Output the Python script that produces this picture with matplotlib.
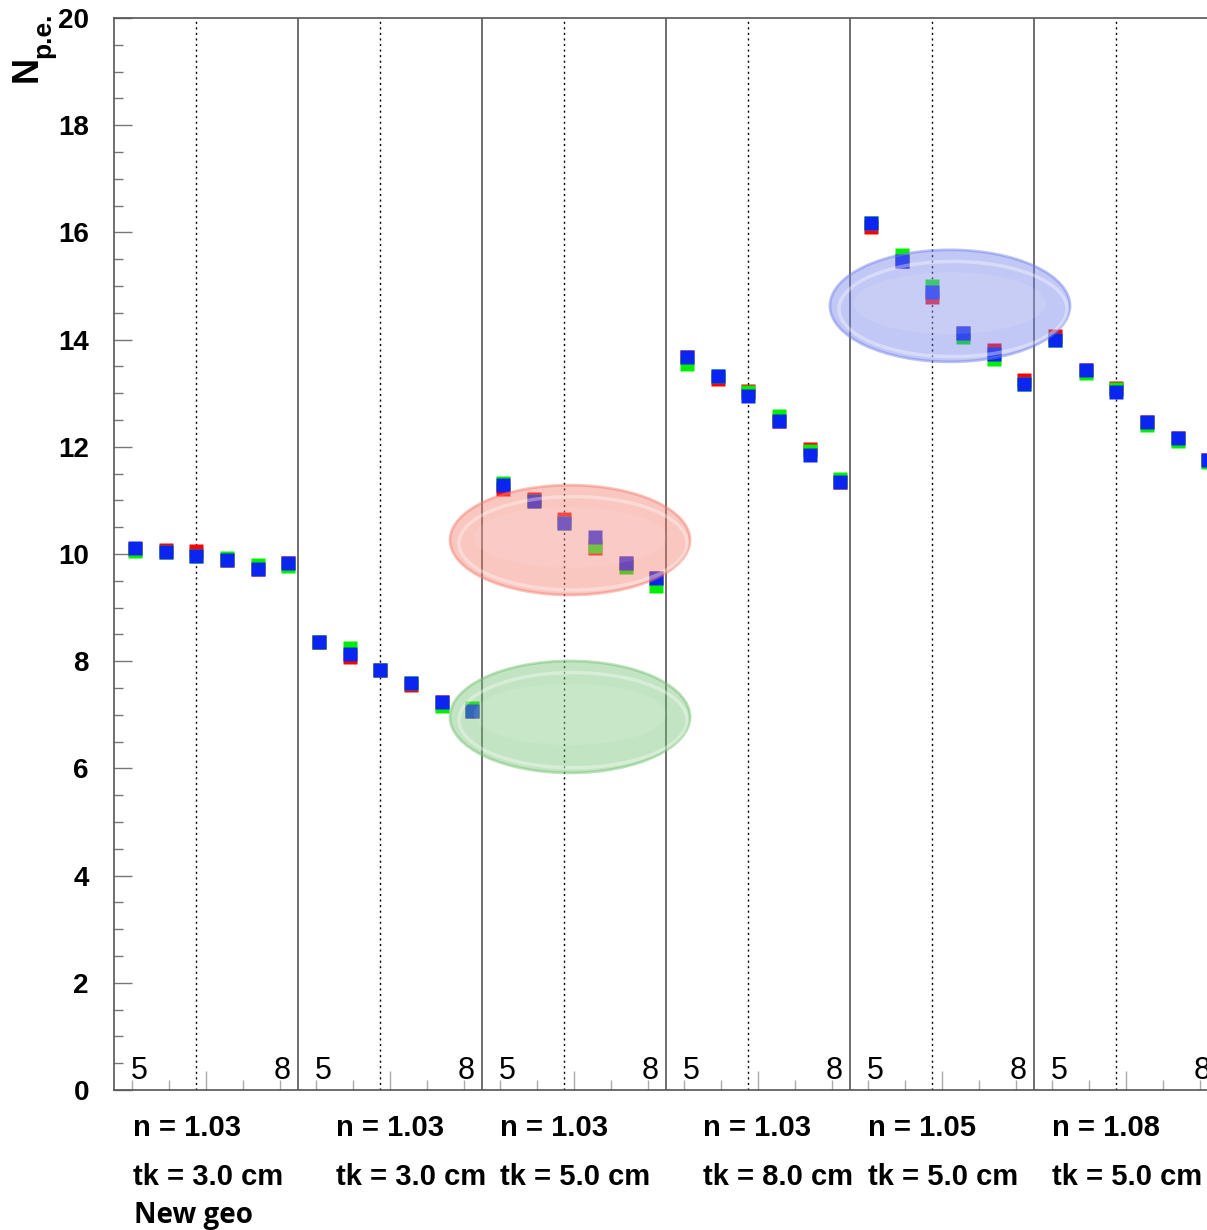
import numpy as np
import matplotlib
matplotlib.use("Agg")
import matplotlib.pyplot as plt
from matplotlib.patches import Ellipse

# values (6 groups x 6 points)
red_vals = [10.10, 10.08, 10.05, 9.89, 9.72, 9.83,
            8.35, 8.08, 7.84, 7.56, 7.24, 7.07,
            11.22, 11.03, 10.66, 10.12, 9.83, 9.55,
            13.68, 13.27, 13.05, 12.49, 11.96, 11.34,
            16.10, 15.47, 14.80, 14.12, 13.80, 13.25,
            14.07, 13.43, 13.10, 12.47, 12.17, 11.75]
green_vals = [10.05, 10.03, 9.97, 9.93, 9.80, 9.78,
              8.35, 8.25, 7.84, 7.60, 7.17, 7.13,
              11.33, 10.98, 10.58, 10.15, 9.75, 9.40,
              13.55, 13.32, 13.02, 12.58, 11.93, 11.40,
              16.18, 15.58, 15.00, 14.05, 13.63, 13.17,
              13.99, 13.38, 13.07, 12.40, 12.10, 11.72]
blue_vals = [10.11, 10.03, 9.97, 9.89, 9.72, 9.83,
             8.35, 8.13, 7.84, 7.60, 7.24, 7.07,
             11.29, 10.98, 10.58, 10.31, 9.83, 9.55,
             13.68, 13.32, 12.95, 12.49, 11.85, 11.34,
             16.18, 15.47, 14.89, 14.12, 13.73, 13.17,
             13.99, 13.43, 13.02, 12.47, 12.17, 11.75]

n_labels = ["n = 1.03", "n = 1.03", "n = 1.03", "n = 1.03", "n = 1.05", "n = 1.08"]
tk_labels = ["tk = 3.0 cm", "tk = 3.0 cm", "tk = 5.0 cm", "tk = 8.0 cm", "tk = 5.0 cm", "tk = 5.0 cm"]
range_labels = ["5", "8"]
note = "New geo"

n_groups = 6
per_group = 6

# layout (x in "point slots", one group = 6 slots)
label_x = [0.62, 7.24, 12.59, 19.2, 24.58, 30.58]
ellipses = [  # (cx, cy, w, h, color)
    (14.87, 10.26, 7.83, 2.05, (0.96, 0.47, 0.41)),
    (14.87, 6.96, 7.83, 2.09, (0.43, 0.75, 0.43)),
    (27.26, 14.63, 7.83, 2.09, (0.43, 0.49, 0.92)),
]

plt.rcParams["font.family"] = ["Liberation Sans", "DejaVu Sans"]

W, H = 1207, 1230
fig = plt.figure(figsize=(W / 100, H / 100), dpi=100)
ax = fig.add_axes([114 / W, 140 / H, 1104 / W, 1072 / H])

x = np.array([g * per_group + k + 0.69 for g in range(n_groups) for k in range(per_group)])

ms = 9.6
ax.plot(x, red_vals, "s", color="#ff0000", ms=ms, mec="none", zorder=3)
ax.plot(x, green_vals, "s", color="#00ee00", ms=ms, mec="none", zorder=4)
ax.plot(x, blue_vals, "s", color="#0a25f0", ms=ms, mec="none", zorder=5)

# group separators and dotted markers
for g in range(n_groups):
    if g > 0:
        ax.axvline(g * per_group, color="#555555", lw=1.2, zorder=2)
    ax.axvline(g * per_group + 2.69, color="black", lw=1.0, ls=(0, (1.5, 2.5)), zorder=2)
    ax.text(g * per_group + 0.56, 0.2, range_labels[0], fontsize=22, ha="left", va="baseline")
    ax.text(g * per_group + 5.76, 0.2, range_labels[1], fontsize=22, ha="right", va="baseline")

# glossy ellipses drawn over the points
for cx, cy, w, h, c in ellipses:
    ax.add_patch(Ellipse((cx, cy), w, h, facecolor=c, alpha=0.42, edgecolor="none", zorder=6))
    ax.add_patch(Ellipse((cx, cy), w, h, facecolor="none", edgecolor=c, alpha=0.45, lw=2, zorder=6))
    ax.add_patch(Ellipse((cx + 0.1, cy - 0.06), w * 0.95, h * 0.85, facecolor="none",
                         edgecolor="white", alpha=0.35, lw=2.5, zorder=7))
    ax.add_patch(Ellipse((cx, cy + 0.05), w * 0.8, h * 0.55, facecolor="white",
                         alpha=0.10, edgecolor="none", zorder=7))

ax.set_xlim(0, n_groups * per_group)
ax.set_ylim(0, 20)

ax.set_yticks(np.arange(0, 21, 2))
ax.set_yticks(np.arange(0, 20.01, 0.5), minor=True)
ax.set_yticklabels([str(v) for v in range(0, 21, 2)], fontsize=20, fontweight="bold")
ax.tick_params(axis="y", which="major", direction="in", length=13, width=1, color="#777777", pad=18)
ax.tick_params(axis="y", which="minor", direction="in", length=6.5, width=1, color="#777777")

big = np.arange(3, 36, 6)
small = [t for t in np.arange(0.6, 36, 1.2) if np.min(np.abs(big - t)) > 0.1]
ax.set_xticks(big)
ax.set_xticks(small, minor=True)
ax.set_xticklabels([])
ax.tick_params(axis="x", which="major", direction="in", length=14, width=1, color="#aaaaaa")
ax.tick_params(axis="x", which="minor", direction="in", length=7, width=1, color="#aaaaaa")

for s in ax.spines.values():
    s.set_color("#555555")
    s.set_linewidth(1.2)

# bottom group labels
tr = ax.get_xaxis_transform()
for i in range(n_groups):
    ax.text(label_x[i], -(1128 - 1090) / 1072, n_labels[i], transform=tr,
            fontsize=21, fontweight="bold", ha="left", va="center", clip_on=False)
    ax.text(label_x[i], -(1177 - 1090) / 1072, tk_labels[i], transform=tr,
            fontsize=21, fontweight="bold", ha="left", va="center", clip_on=False)

fig.text(134 / W, 1 - 1216 / H, note, fontsize=20, fontweight="bold",
         family=["Open Sans", "DejaVu Sans"], ha="left", va="center")

# y title: N with subscript p.e., rotated
fig.text(27 / W, 1 - 82 / H, "N", fontsize=26, fontweight="bold", rotation=90,
         ha="center", va="bottom")
fig.text(43 / W, 1 - 58 / H, "p.e.", fontsize=19, fontweight="bold", rotation=90,
         ha="center", va="bottom")

fig.savefig("out.png", dpi=100)
